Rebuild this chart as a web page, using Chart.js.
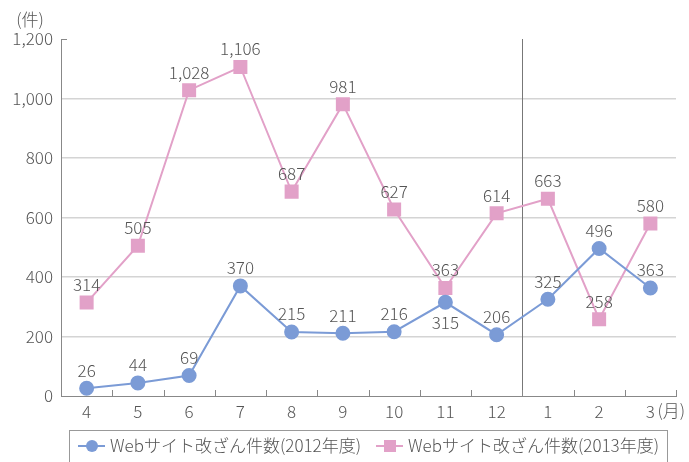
<!DOCTYPE html>
<html>
<head>
<meta charset="utf-8">
<script src="https://cdn.jsdelivr.net/npm/chart.js@4/dist/chart.umd.min.js"></script>
<style>
html, body { margin: 0; padding: 0; background: #fff; }
#wrap { width: 689px; height: 462px; position: relative; }
</style>
</head>
<body>
<div id="wrap"><canvas id="chart"></canvas></div>
<script>
const months = ['4', '5', '6', '7', '8', '9', '10', '11', '12', '1', '2', '3'];
const counts2012 = [26, 44, 69, 370, 215, 211, 216, 315, 206, 325, 496, 363];
const counts2013 = [314, 505, 1028, 1106, 687, 981, 627, 363, 614, 663, 258, 580];
const seriesNames = ['Webサイト改ざん件数(2012年度)', 'Webサイト改ざん件数(2013年度)'];
const yUnit = '(件)';
const xUnit = '(月)';
// value labels drawn under the point instead of above (dataset, index)
const labelsBelow = [[0, 7]];

const FONT = '"Noto Sans CJK JP", "Noto Sans", sans-serif';
const TEXT = '#555';
const BLUE = '#7b9bd6';
const PINK = '#e2a1c8';

// labels, separator, small ticks and legend box
const decorPlugin = {
    id: 'decor',
    beforeDatasetsDraw(chart) {
        const ctx = chart.ctx;
        const x = chart.scales.x, y = chart.scales.y;
        const step = x.getPixelForValue(1) - x.getPixelForValue(0);
        ctx.save();
        // year separator between 12 and 1
        const sep = Math.round((x.getPixelForValue(8) + x.getPixelForValue(9)) / 2) + 0.5;
        ctx.strokeStyle = '#777';
        ctx.lineWidth = 1;
        ctx.beginPath();
        ctx.moveTo(sep, y.top);
        ctx.lineTo(sep, y.bottom);
        ctx.stroke();
        // x ticks pointing up
        ctx.strokeStyle = '#888';
        for (let i = 0; i <= months.length; i++) {
            const px = Math.round(x.getPixelForValue(0) - step / 2 + i * step) + 0.5;
            ctx.beginPath();
            ctx.moveTo(px, y.bottom);
            ctx.lineTo(px, y.bottom - 6);
            ctx.stroke();
        }
        // short tick at top of y axis
        const top = Math.round(y.getPixelForValue(1200)) + 0.5;
        ctx.beginPath();
        ctx.moveTo(x.left, top);
        ctx.lineTo(x.left + 6, top);
        ctx.stroke();
        ctx.restore();
    },
    afterDraw(chart) {
        const ctx = chart.ctx;
        const x = chart.scales.x, y = chart.scales.y;
        ctx.save();
        // value labels
        ctx.font = '300 17px ' + FONT;
        ctx.fillStyle = TEXT;
        ctx.textAlign = 'center';
        ctx.textBaseline = 'middle';
        chart.data.datasets.forEach((ds, di) => {
            chart.getDatasetMeta(di).data.forEach((pt, i) => {
                const below = labelsBelow.some(p => p[0] === di && p[1] === i);
                ctx.fillText(ds.data[i].toLocaleString('en-US'), pt.x, below ? pt.y + 20 : pt.y - 18);
            });
        });
        // unit labels
        ctx.fillText(yUnit, 30, 20);
        ctx.textAlign = 'left';
        ctx.fillText(xUnit, x.getPixelForValue(11) + 7, y.bottom + 15);

        // legend box
        const bx = 69, by = 430, bw = 598, bh = 40;
        ctx.strokeStyle = '#999';
        ctx.lineWidth = 1;
        ctx.strokeRect(bx + 0.5, by + 0.5, bw, bh);
        const items = [
            { x: 78, color: BLUE, shape: 'circle', text: seriesNames[0] },
            { x: 376, color: PINK, shape: 'rect', text: seriesNames[1] }
        ];
        const ly = 446;
        ctx.font = '300 17px ' + FONT;
        ctx.textBaseline = 'middle';
        items.forEach(it => {
            ctx.strokeStyle = it.color;
            ctx.lineWidth = 2;
            ctx.beginPath();
            ctx.moveTo(it.x, ly);
            ctx.lineTo(it.x + 27, ly);
            ctx.stroke();
            ctx.fillStyle = it.color;
            if (it.shape === 'circle') {
                ctx.beginPath();
                ctx.arc(it.x + 14, ly, 6, 0, Math.PI * 2);
                ctx.fill();
            } else {
                ctx.fillRect(it.x + 8, ly - 6, 12, 12);
            }
            ctx.fillStyle = TEXT;
            ctx.fillText(it.text, it.x + 32, ly);
        });
        ctx.restore();
    }
};

const ctx = document.getElementById('chart').getContext('2d');
const chart = new Chart(ctx, {
    type: 'line',
    data: {
        labels: months,
        datasets: [{
            label: seriesNames[0],
            data: counts2012,
            borderColor: BLUE,
            backgroundColor: BLUE,
            borderWidth: 2,
            pointStyle: 'circle',
            pointRadius: 6.5,
            pointHoverRadius: 6.5,
            tension: 0
        }, {
            label: seriesNames[1],
            data: counts2013,
            borderColor: PINK,
            backgroundColor: PINK,
            borderWidth: 2,
            pointStyle: 'rect',
            pointRadius: 8.5,
            pointHoverRadius: 8.5,
            tension: 0
        }]
    },
    options: {
        responsive: true,
        maintainAspectRatio: false,
        animation: false,
        layout: {
            padding: { left: 0, right: 13, top: 39, bottom: 0 }
        },
        plugins: {
            legend: { display: false },
            tooltip: { enabled: false }
        },
        scales: {
            x: {
                offset: true,
                grid: { display: false, drawTicks: false },
                border: { color: '#888', width: 1 },
                ticks: {
                    color: TEXT,
                    font: { family: FONT, size: 17, weight: 300 },
                    padding: 5,
                    maxRotation: 0
                },
                afterFit: s => { s.height = 66; }
            },
            y: {
                min: 0,
                max: 1200,
                grid: {
                    drawTicks: false,
                    color: c => (c.tick.value === 0 || c.tick.value === 1200) ? 'rgba(0,0,0,0)' : '#d4d4d4',
                    lineWidth: 1.5
                },
                border: { color: '#888', width: 1 },
                ticks: {
                    stepSize: 200,
                    color: TEXT,
                    font: { family: FONT, size: 17, weight: 300 },
                    padding: 8,
                    callback: v => v.toLocaleString('en-US')
                },
                afterFit: s => { s.width = 61; }
            }
        }
    },
    plugins: [decorPlugin]
});
</script>
</body>
</html>
